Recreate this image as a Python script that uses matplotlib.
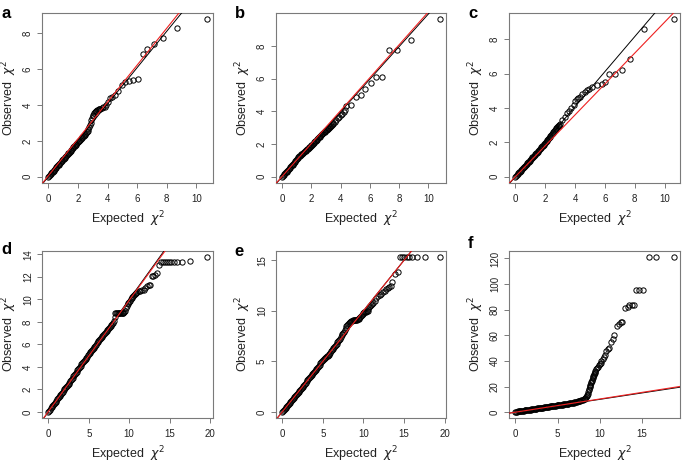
import matplotlib
matplotlib.use("Agg")
import matplotlib.pyplot as plt

plt.rcParams['font.family'] = ['Liberation Sans', 'DejaVu Sans']

exp_a = [0.00, 0.05, 0.10, 0.15, 0.20, 0.25, 0.30, 0.35, 0.40, 0.45,
         0.50, 0.55, 0.60, 0.65, 0.70, 0.75, 0.80, 0.85, 0.90, 0.95,
         1.00, 1.05, 1.10, 1.15, 1.20, 1.25, 1.30, 1.35, 1.40, 1.45,
         1.50, 1.55, 1.60, 1.65, 1.70, 1.75, 1.80, 1.85, 1.90, 1.95,
         2.00, 2.05, 2.10, 2.15, 2.20, 2.25, 2.30, 2.35, 2.40, 2.45,
         2.50, 2.55, 2.60, 2.65, 2.70, 2.75, 2.80, 2.85, 2.90, 2.95,
         3.00, 3.05, 3.10, 3.15, 3.20, 3.25, 3.30, 3.35, 3.40, 3.45,
         3.50, 3.60, 3.70, 3.80, 3.90, 4.00,
         4.17, 4.30, 4.50, 4.74, 4.97, 5.20, 5.43, 5.70, 6.03,
         6.37, 6.67, 7.12, 7.75, 8.70, 10.70]
obs_a = [0.00, 0.05, 0.10, 0.15, 0.19, 0.24, 0.29, 0.34, 0.39, 0.43,
         0.48, 0.53, 0.58, 0.63, 0.68, 0.72, 0.77, 0.82, 0.87, 0.92,
         0.97, 1.01, 1.06, 1.11, 1.16, 1.21, 1.25, 1.30, 1.35, 1.40,
         1.45, 1.50, 1.54, 1.59, 1.64, 1.69, 1.74, 1.78, 1.83, 1.88,
         1.93, 1.97, 2.02, 2.07, 2.11, 2.16, 2.20, 2.25, 2.29, 2.33,
         2.38, 2.42, 2.48, 2.55, 2.64, 2.76, 2.90, 3.02, 3.15, 3.27,
         3.38, 3.47, 3.55, 3.60, 3.65, 3.68, 3.70, 3.73, 3.76, 3.78,
         3.80, 3.84, 3.88, 3.92, 4.02, 4.15,
         4.40, 4.45, 4.55, 4.80, 5.10, 5.27, 5.36, 5.38, 5.44,
         6.83, 7.11, 7.43, 7.76, 8.32, 8.79]

exp_b = [0.00, 0.05, 0.10, 0.15, 0.20, 0.25, 0.30, 0.35, 0.40, 0.45,
         0.50, 0.55, 0.60, 0.65, 0.70, 0.75, 0.80, 0.85, 0.90, 0.95,
         1.00, 1.05, 1.10, 1.15, 1.20, 1.25, 1.30, 1.35, 1.40, 1.45,
         1.50, 1.55, 1.60, 1.65, 1.70, 1.75, 1.80, 1.85, 1.90, 1.95,
         2.00, 2.05, 2.10, 2.15, 2.20, 2.25, 2.30, 2.35, 2.40, 2.45,
         2.50, 2.55, 2.60, 2.65, 2.70, 2.75, 2.80, 2.85, 2.90, 2.95,
         3.00, 3.05, 3.10, 3.15, 3.20, 3.25, 3.30, 3.35, 3.40, 3.45,
         3.50, 3.60, 3.70, 3.80, 3.90, 4.00, 4.10, 4.20, 4.30,
         4.38, 4.68, 5.07, 5.37, 5.69, 6.05, 6.44, 6.83, 7.29, 7.88, 8.79, 10.78]
obs_b = [0.00, 0.05, 0.10, 0.15, 0.20, 0.26, 0.31, 0.37, 0.42, 0.47,
         0.52, 0.58, 0.63, 0.69, 0.74, 0.80, 0.85, 0.91, 0.97, 1.03,
         1.08, 1.14, 1.19, 1.24, 1.28, 1.32, 1.36, 1.40, 1.44, 1.48,
         1.52, 1.56, 1.60, 1.64, 1.68, 1.72, 1.76, 1.80, 1.84, 1.88,
         1.92, 1.97, 2.02, 2.07, 2.12, 2.16, 2.21, 2.26, 2.31, 2.35,
         2.40, 2.45, 2.50, 2.55, 2.59, 2.63, 2.68, 2.72, 2.76, 2.80,
         2.84, 2.88, 2.92, 2.96, 3.00, 3.04, 3.08, 3.12, 3.17, 3.22,
         3.26, 3.36, 3.47, 3.58, 3.68, 3.78, 3.86, 3.95, 4.10,
         4.31, 4.41, 4.88, 5.02, 5.37, 5.73, 6.07, 6.13, 7.76, 7.76, 8.37, 9.63]

exp_c = [0.00, 0.05, 0.10, 0.15, 0.20, 0.25, 0.30, 0.35, 0.40, 0.45,
         0.50, 0.55, 0.60, 0.65, 0.70, 0.75, 0.80, 0.85, 0.90, 0.95,
         1.00, 1.05, 1.10, 1.15, 1.20, 1.25, 1.30, 1.35, 1.40, 1.45,
         1.50, 1.55, 1.60, 1.65, 1.70, 1.75, 1.80, 1.85, 1.90, 1.95,
         2.00, 2.05, 2.10, 2.15, 2.20, 2.25, 2.30, 2.35, 2.40, 2.45,
         2.50, 2.55, 2.60, 2.65, 2.70, 2.75, 2.80, 2.85, 2.90, 2.95, 3.00,
         3.15, 3.30, 3.45, 3.60, 3.75, 3.90, 4.00, 4.10, 4.20, 4.35,
         4.50, 4.65, 4.80, 4.95,
         5.17, 5.44, 5.78, 6.02, 6.29, 6.68, 7.13, 7.69, 8.65, 10.61]
obs_c = [0.00, 0.05, 0.10, 0.15, 0.20, 0.25, 0.30, 0.34, 0.39, 0.44,
         0.49, 0.54, 0.59, 0.64, 0.69, 0.74, 0.79, 0.83, 0.88, 0.93,
         0.98, 1.03, 1.08, 1.12, 1.17, 1.22, 1.27, 1.32, 1.37, 1.41,
         1.46, 1.51, 1.56, 1.61, 1.66, 1.71, 1.76, 1.81, 1.86, 1.91,
         1.96, 2.01, 2.07, 2.12, 2.18, 2.24, 2.30, 2.36, 2.42, 2.48,
         2.54, 2.60, 2.66, 2.71, 2.77, 2.82, 2.88, 2.93, 2.98, 3.03, 3.08,
         3.30, 3.50, 3.70, 3.85, 4.00, 4.20, 4.42, 4.55, 4.60, 4.65,
         4.80, 4.95, 5.05, 5.12,
         5.25, 5.32, 5.38, 5.51, 5.96, 5.96, 6.21, 6.88, 8.58, 9.17]

exp_d = [0.0, 0.1, 0.2, 0.3, 0.4, 0.5, 0.6, 0.7, 0.8, 0.9,
         1.0, 1.1, 1.2, 1.3, 1.4, 1.5, 1.6, 1.7, 1.8, 1.9,
         2.0, 2.1, 2.2, 2.3, 2.4, 2.5, 2.6, 2.7, 2.8, 2.9,
         3.0, 3.1, 3.2, 3.3, 3.4, 3.5, 3.6, 3.7, 3.8, 3.9,
         4.0, 4.1, 4.2, 4.3, 4.4, 4.5, 4.6, 4.7, 4.8, 4.9,
         5.0, 5.1, 5.2, 5.3, 5.4, 5.5, 5.6, 5.7, 5.8, 5.9,
         6.0, 6.1, 6.2, 6.3, 6.4, 6.5, 6.6, 6.7, 6.8, 6.9,
         7.0, 7.1, 7.2, 7.3, 7.4, 7.5, 7.6, 7.7, 7.8, 7.9, 8.0,
         8.1, 8.2, 8.3, 8.4, 8.5, 8.6, 8.7, 8.8, 8.9, 9.0,
         9.1, 9.2, 9.3, 9.4, 9.5, 9.6, 9.7, 9.8, 9.9, 10.0,
         10.1, 10.2, 10.3, 10.4, 10.5, 10.6, 10.7, 10.8, 10.9, 11.0,
         11.2, 11.4, 11.6, 11.8, 12.0, 12.2, 12.4, 12.6,
         12.83, 13.0, 13.2, 13.45, 13.65, 13.9, 14.15,
         14.4, 14.65, 14.9, 15.2, 15.5, 15.94, 16.56, 17.51, 19.59]
obs_d = [0.00, 0.10, 0.20, 0.30, 0.40, 0.50, 0.60, 0.70, 0.80, 0.90,
         1.00, 1.10, 1.20, 1.30, 1.40, 1.50, 1.60, 1.70, 1.80, 1.90,
         2.00, 2.10, 2.20, 2.30, 2.40, 2.50, 2.60, 2.71, 2.82, 2.93,
         3.04, 3.15, 3.26, 3.36, 3.47, 3.57, 3.68, 3.79, 3.90, 4.01,
         4.12, 4.22, 4.32, 4.42, 4.52, 4.62, 4.72, 4.82, 4.92, 5.02,
         5.12, 5.21, 5.30, 5.40, 5.50, 5.60, 5.70, 5.80, 5.90, 5.99,
         6.08, 6.18, 6.27, 6.36, 6.45, 6.55, 6.64, 6.74, 6.83, 6.92,
         7.00, 7.09, 7.18, 7.27, 7.36, 7.44, 7.52, 7.61, 7.70, 7.80, 7.90,
         8.05, 8.40, 8.75, 8.75, 8.75, 8.75, 8.75, 8.75, 8.75, 8.75,
         8.75, 8.78, 8.80, 8.90, 9.00, 9.20, 9.40, 9.55, 9.70, 9.80,
         9.90, 10.00, 10.10, 10.20, 10.30, 10.40, 10.50, 10.55, 10.60, 10.65,
         10.72, 10.78, 10.80, 10.85, 11.00, 11.22, 11.26, 11.30,
         12.11, 12.10, 12.20, 12.34, 13.10, 13.33, 13.33,
         13.33, 13.33, 13.33, 13.33, 13.33, 13.33, 13.33, 13.41, 13.76]

exp_e = [0.0, 0.1, 0.2, 0.3, 0.4, 0.5, 0.6, 0.7, 0.8, 0.9,
         1.0, 1.1, 1.2, 1.3, 1.4, 1.5, 1.6, 1.7, 1.8, 1.9,
         2.0, 2.1, 2.2, 2.3, 2.4, 2.5, 2.6, 2.7, 2.8, 2.9,
         3.0, 3.1, 3.2, 3.3, 3.4, 3.5, 3.6, 3.7, 3.8, 3.9,
         4.0, 4.1, 4.2, 4.3, 4.4, 4.5, 4.6, 4.7, 4.8, 4.9,
         5.0, 5.1, 5.2, 5.3, 5.4, 5.5, 5.6, 5.7, 5.8, 5.9,
         6.0, 6.1, 6.2, 6.3, 6.4, 6.5, 6.6, 6.7, 6.8, 6.9,
         7.0, 7.1, 7.2, 7.3, 7.4, 7.5, 7.6, 7.7, 7.8, 7.9, 8.0,
         8.1, 8.2, 8.3, 8.4, 8.5, 8.6, 8.7, 8.8, 8.9, 9.0,
         9.1, 9.2, 9.3, 9.4, 9.5, 9.6, 9.7, 9.8, 9.9, 10.0,
         10.1, 10.2, 10.3, 10.4, 10.5, 10.6, 10.7, 10.8, 10.9, 11.0,
         11.2, 11.4, 11.6, 11.8, 12.0, 12.2, 12.4, 12.6, 12.8, 13.0, 13.2, 13.4,
         13.57, 13.9, 14.2, 14.5, 14.75, 15.0, 15.3, 15.6, 15.98, 16.6, 17.56, 19.39]
obs_e = [0.00, 0.10, 0.20, 0.30, 0.40, 0.50, 0.60, 0.70, 0.80, 0.90,
         1.00, 1.10, 1.20, 1.30, 1.40, 1.50, 1.60, 1.70, 1.80, 1.90,
         2.00, 2.10, 2.20, 2.30, 2.40, 2.50, 2.60, 2.70, 2.80, 2.90,
         3.00, 3.10, 3.20, 3.30, 3.41, 3.52, 3.62, 3.73, 3.83, 3.94,
         4.05, 4.15, 4.26, 4.36, 4.47, 4.57, 4.68, 4.79, 4.90, 5.01,
         5.12, 5.22, 5.30, 5.36, 5.42, 5.48, 5.55, 5.65, 5.75, 5.86,
         5.98, 6.09, 6.20, 6.31, 6.42, 6.53, 6.64, 6.75, 6.86, 6.98,
         7.10, 7.25, 7.40, 7.60, 7.70, 7.80, 7.90, 8.10, 8.28, 8.45, 8.55,
         8.65, 8.75, 8.85, 8.93, 9.00, 9.03, 9.05, 9.07, 9.10, 9.10,
         9.10, 9.12, 9.15, 9.22, 9.30, 9.40, 9.50, 9.60, 9.70, 9.78,
         9.85, 9.88, 9.90, 9.95, 10.00, 10.20, 10.40, 10.50, 10.60, 10.65,
         10.75, 11.00, 11.30, 11.45, 11.55, 11.70, 11.85, 12.00, 12.15, 12.25, 12.35, 12.45,
         12.80, 13.60, 13.80, 15.30, 15.30, 15.30, 15.30, 15.30, 15.30, 15.30, 15.30, 15.30]

exp_f = [0.0, 0.1, 0.2, 0.3, 0.4, 0.5, 0.6, 0.7, 0.8, 0.9,
         1.0, 1.1, 1.2, 1.3, 1.4, 1.5, 1.6, 1.7, 1.8, 1.9,
         2.0, 2.1, 2.2, 2.3, 2.4, 2.5, 2.6, 2.7, 2.8, 2.9,
         3.0, 3.1, 3.2, 3.3, 3.4, 3.5, 3.6, 3.7, 3.8, 3.9,
         4.0, 4.1, 4.2, 4.3, 4.4, 4.5, 4.6, 4.7, 4.8, 4.9,
         5.0, 5.1, 5.2, 5.3, 5.4, 5.5, 5.6, 5.7, 5.8, 5.9,
         6.0, 6.1, 6.2, 6.3, 6.4, 6.5, 6.6, 6.7, 6.8, 6.9,
         7.0, 7.1, 7.2, 7.3, 7.4, 7.5, 7.6, 7.7, 7.8, 7.9, 8.0,
         8.1, 8.2, 8.3, 8.4, 8.5,
         8.55, 8.6, 8.65, 8.7, 8.75, 8.8, 8.85, 8.9, 8.95, 9.0,
         9.05, 9.1, 9.15, 9.2, 9.25, 9.3, 9.35, 9.4, 9.45, 9.5,
         9.6, 9.7, 9.8, 9.9, 10.0, 10.1, 10.2, 10.35,
         10.5, 10.65, 10.8, 11.0, 11.1, 11.3, 11.54, 11.7, 12.1, 12.3,
         12.5, 12.7, 13.05, 13.3, 13.5, 13.8, 14.1, 14.3, 14.7, 15.1,
         15.79, 16.7, 18.77]
obs_f = [0.30, 0.40, 0.50, 0.60, 0.70, 0.80, 0.90, 1.00, 1.10, 1.20,
         1.30, 1.40, 1.50, 1.60, 1.70, 1.80, 1.90, 2.00, 2.10, 2.22,
         2.35, 2.45, 2.55, 2.65, 2.75, 2.85, 2.95, 3.05, 3.15, 3.25,
         3.35, 3.45, 3.55, 3.65, 3.75, 3.85, 3.95, 4.05, 4.15, 4.25,
         4.35, 4.45, 4.55, 4.65, 4.75, 4.85, 4.95, 5.05, 5.15, 5.25,
         5.35, 5.45, 5.55, 5.65, 5.75, 5.85, 5.95, 6.05, 6.15, 6.28,
         6.40, 6.52, 6.65, 6.78, 6.90, 7.03, 7.15, 7.28, 7.40, 7.55,
         7.70, 7.85, 8.00, 8.20, 8.40, 8.60, 8.80, 9.05, 9.30, 9.55, 9.80,
         10.2, 10.6, 11.0, 11.8, 12.5,
         13.5, 14.5, 15.7, 17.0, 18.2, 19.5, 20.5, 21.5, 22.5, 23.5,
         24.5, 25.5, 26.5, 27.5, 28.2, 29.0, 29.8, 30.5, 31.2, 32.0,
         33.5, 34.5, 35.5, 36.5, 37.5, 38.5, 40.0, 41.5,
         43.0, 45.0, 47.5, 49.5, 50.5, 55.0, 57.0, 60.5, 67.0, 68.5,
         70.5, 70.5, 81.7, 82.5, 83.5, 84.0, 84.0, 95.0, 95.0, 95.0,
         121.0, 121.0, 121.0]

# reference lines (slope, intercept): black and red
black_lines = [(1.015, 0.0), (0.995, 0.0), (1.02, 0.0), (1.0, 0.0), (1.0, 0.0), (1.0, 0.0)]
red_lines = [(1.03, 0.05), (1.005, 0.03), (0.9, 0.0), (0.99, 0.02), (1.0, 0.0), (1.03, 0.0)]

xticks = [[0, 2, 4, 6, 8, 10]] * 3 + [[0, 5, 10, 15, 20]] * 2 + [[0, 5, 10, 15]]
yticks = [[0, 2, 4, 6, 8]] * 3 + [[0, 2, 4, 6, 8, 10, 12, 14], [0, 5, 10, 15],
                                  [0, 20, 40, 60, 80, 100, 120]]
letters = ['a', 'b', 'c', 'd', 'e', 'f']

W, H = 685, 463
# axes boxes in pixels: left, top, right, bottom
boxes = [(42, 13, 213, 183), (276, 13, 446, 183), (509, 13, 680, 183),
         (42, 251, 213, 418), (276, 251, 446, 418), (509, 251, 680, 418)]
letter_pos = [(6, 14), (240, 13), (473, 14), (6, 250), (239, 252), (471, 244)]


def r_lim(v):
    # R style axis range: data range padded by 4% on each side
    lo, hi = min(v), max(v)
    d = 0.04 * (hi - lo)
    return lo - d, hi + d


data = [(exp_a, obs_a), (exp_b, obs_b), (exp_c, obs_c),
        (exp_d, obs_d), (exp_e, obs_e), (exp_f, obs_f)]

fig = plt.figure(figsize=(W / 100, H / 100), dpi=100)
box_col = '#7a7a7a'

for i, (ex, ob) in enumerate(data):
    l, t, r, b = boxes[i]
    ax = fig.add_axes([l / W, 1 - b / H, (r - l) / W, (b - t) / H])
    ax.plot(ex, ob, 'o', mfc='none', mec='black', ms=3.8, mew=0.7, zorder=2)
    m, c0 = black_lines[i]
    ax.axline((0, c0), slope=m, color='black', lw=0.7, zorder=3)
    m, c0 = red_lines[i]
    ax.axline((0, c0), slope=m, color='#ee2020', lw=0.8, zorder=4)
    ax.set_xlim(*r_lim(ex))
    ax.set_ylim(*r_lim(ob))
    ax.set_xticks(xticks[i])
    ax.set_yticks(yticks[i])
    for s in ax.spines.values():
        s.set_color(box_col)
        s.set_linewidth(0.8)
    ax.tick_params(length=3.5, width=0.7, color=box_col, labelsize=7,
                   labelcolor='#222222')
    ax.tick_params(axis='x', pad=4.5)
    ax.tick_params(axis='y', pad=3)
    for lab in ax.get_yticklabels():
        lab.set_rotation(90)
        lab.set_va('center')
    ax.set_xlabel(r'Expected  $\chi^2$', fontsize=9, labelpad=4, color='#222222')
    ax.set_ylabel(r'Observed  $\chi^2$', fontsize=9, labelpad=3, color='#222222')
    lx, ly = letter_pos[i]
    fig.text(lx / W, 1 - ly / H, letters[i], fontsize=12, fontweight='bold',
             ha='center', va='center')

fig.savefig('out.png', dpi=100)
